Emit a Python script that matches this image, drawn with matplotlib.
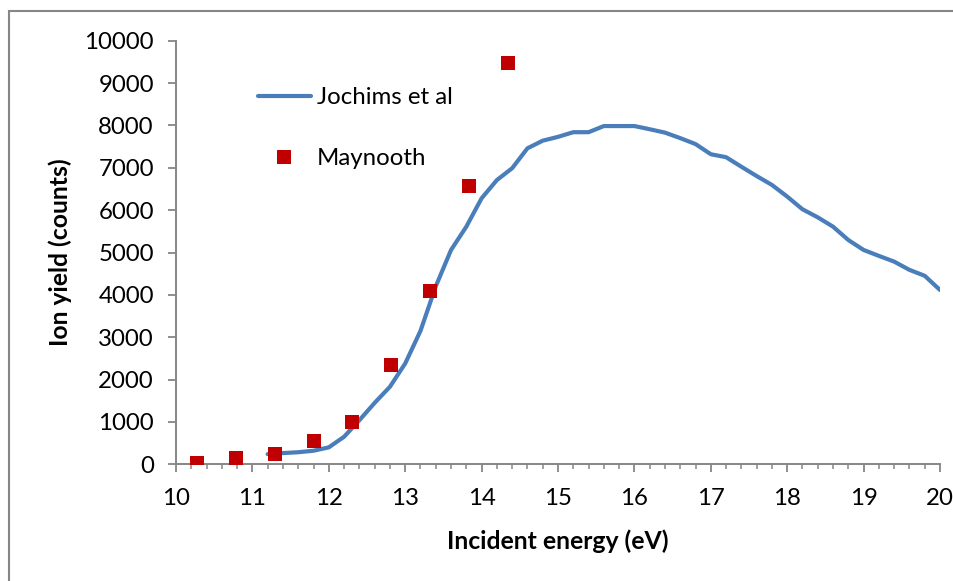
import matplotlib
matplotlib.use("Agg")
import matplotlib.pyplot as plt
from matplotlib.patches import Rectangle
from matplotlib.ticker import MultipleLocator

# Jochims et al photoionisation yield (0.2 eV grid)
jochims_energy = [11.2, 11.4, 11.6, 11.8, 12.0, 12.2, 12.4, 12.6, 12.8, 13.0,
                  13.2, 13.4, 13.6, 13.8, 14.0, 14.2, 14.4, 14.6, 14.8, 15.0,
                  15.2, 15.4, 15.6, 15.8, 16.0, 16.2, 16.4, 16.6, 16.8, 17.0,
                  17.2, 17.4, 17.6, 17.8, 18.0, 18.2, 18.4, 18.6, 18.8, 19.0,
                  19.2, 19.4, 19.6, 19.8, 20.0]
jochims_yield = [240, 265, 285, 320, 400, 650, 1040, 1450, 1830, 2380,
                 3150, 4200, 5060, 5610, 6280, 6710, 6990, 7460, 7640, 7730,
                 7840, 7840, 7985, 7985, 7985, 7910, 7830, 7700, 7560, 7320,
                 7250, 7025, 6805, 6595, 6320, 6020, 5830, 5610, 5295, 5060,
                 4920, 4785, 4590, 4450, 4115]

# Maynooth measurements
maynooth_energy = [10.28, 10.78, 11.30, 11.80, 12.31, 12.82, 13.33, 13.84, 14.35]
maynooth_yield = [40, 140, 240, 560, 1005, 2345, 4100, 6575, 9480]

x_ticks = [10, 11, 12, 13, 14, 15, 16, 17, 18, 19, 20]
y_ticks = [0, 1000, 2000, 3000, 4000, 5000, 6000, 7000, 8000, 9000, 10000]

plt.rcParams['font.family'] = ['Lato', 'DejaVu Sans']
AXIS_GREY = '#868686'
LINE_BLUE = '#4A7EBB'
MARK_RED = '#C00000'

W, H = 954, 581
fig = plt.figure(figsize=(W / 100, H / 100), dpi=100)
ax = fig.add_axes([176 / W, 1 - 464.3 / H, (940 - 176) / W, (464.3 - 40.7) / H])

ax.plot(jochims_energy, jochims_yield, color=LINE_BLUE, lw=3.0,
        solid_capstyle='round', solid_joinstyle='round', label='Jochims et al',
        zorder=2)
ax.plot(maynooth_energy, maynooth_yield, linestyle='none', marker='s',
        markersize=9.6, color=MARK_RED, markeredgewidth=0, label='Maynooth',
        zorder=3)

ax.set_xlim(10, 20)
ax.set_ylim(0, 10000)
ax.set_xticks(x_ticks)
ax.set_yticks(y_ticks)
ax.xaxis.set_minor_locator(MultipleLocator(0.2))

for side in ('top', 'right'):
    ax.spines[side].set_visible(False)
for side in ('left', 'bottom'):
    ax.spines[side].set_color(AXIS_GREY)
    ax.spines[side].set_linewidth(1.4)

ax.tick_params(axis='both', which='major', direction='out', color=AXIS_GREY,
               width=1.3, labelsize=17.3, labelcolor='black')
ax.tick_params(axis='x', which='major', length=5.5, pad=11.5)
ax.tick_params(axis='x', which='minor', length=3.5, width=1.1, color=AXIS_GREY)
ax.tick_params(axis='y', which='major', length=6, pad=10)

ax.set_xlabel('Incident energy (eV)', fontsize=17.8, fontweight='bold', labelpad=15)
ax.set_ylabel('Ion yield (counts)', fontsize=17.8, fontweight='bold', labelpad=8.5)

ax.legend(loc='upper left', bbox_to_anchor=(258 / W, 1 - 87 / H),
          bbox_transform=fig.transFigure, frameon=False, fontsize=17.3,
          handlelength=2.2, handletextpad=0.25, labelspacing=1.68,
          numpoints=1, borderpad=0, borderaxespad=0)

# Chart-area frame
fig.patches.append(Rectangle((9.5 / W, -0.1), 1.2, 1 - 11 / H + 0.1,
                             transform=fig.transFigure, fill=False,
                             edgecolor=AXIS_GREY, linewidth=1.5))

fig.savefig('out.png', dpi=100)
